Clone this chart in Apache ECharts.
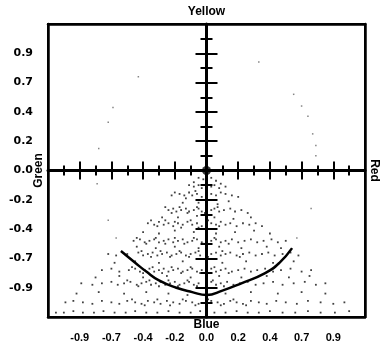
<!DOCTYPE html>
<html><head><meta charset="utf-8">
<script src="https://cdn.jsdelivr.net/npm/echarts@6/dist/echarts.min.js"></script>
<style>html,body{margin:0;padding:0;background:#fff}#c{width:380px;height:348px}</style>
</head><body><div id="c"></div>
<script>
// Tick label texts (as printed), for tick positions -0.8..0.8 step 0.2
var xTickLabels = ['-0.9','-0.7','-0.4','-0.2','0.0','0.2','0.4','0.7','0.9'];
var yTickLabels = ['-0.9','-0.7','-0.4','-0.2','0.0','0.2','0.4','0.7','0.9'];
var axisNames = {top:'Yellow', bottom:'Blue', left:'Green', right:'Red'};

// Colour samples (banded)
var bandPoints = [
 [-0.05,-0.05],[-0.02,-0.06],[0.03,-0.05],[0.06,-0.07],[-0.08,-0.08],[0.09,-0.09],
 [-0.11,-0.10],[-0.08,-0.11],[-0.05,-0.10],[-0.03,-0.12],[0.03,-0.11],[0.05,-0.10],[0.08,-0.12],[0.12,-0.11],
 [-0.17,-0.16],[-0.14,-0.17],[-0.11,-0.15],[-0.09,-0.17],[-0.06,-0.16],[-0.03,-0.18],[0.03,-0.16],[0.06,-0.17],[0.09,-0.15],[0.12,-0.16],[0.16,-0.17],[0.20,-0.18],
 [-0.15,-0.22],[-0.05,-0.22],[0.07,-0.23],[0.14,-0.21],
 [-0.24,-0.27],[-0.21,-0.26],[-0.19,-0.28],[-0.16,-0.27],[-0.13,-0.26],[-0.11,-0.28],[-0.08,-0.27],[-0.05,-0.26],[-0.03,-0.28],[0.03,-0.27],[0.05,-0.26],[0.08,-0.28],[0.11,-0.27],[0.15,-0.26],[0.18,-0.28],[0.22,-0.27],[0.26,-0.29],
 [-0.28,-0.32],[-0.18,-0.32],[-0.06,-0.31],[0.05,-0.32],[0.17,-0.33],[0.28,-0.32],
 [-0.37,-0.36],[-0.33,-0.37],[-0.30,-0.35],[-0.27,-0.37],[-0.24,-0.36],[-0.21,-0.38],[-0.18,-0.36],[-0.15,-0.37],[-0.12,-0.35],[-0.09,-0.37],[-0.06,-0.36],[-0.03,-0.38],[0.03,-0.36],[0.06,-0.37],[0.09,-0.35],[0.12,-0.37],[0.15,-0.36],[0.19,-0.38],[0.23,-0.36],[0.27,-0.37],[0.31,-0.36],[0.35,-0.38],
 [-0.40,-0.42],[-0.30,-0.43],[-0.20,-0.41],[-0.08,-0.42],[0.06,-0.43],[0.18,-0.42],[0.30,-0.41],[0.40,-0.43],
 [-0.46,-0.48],[-0.42,-0.47],[-0.39,-0.49],[-0.36,-0.48],[-0.33,-0.47],[-0.30,-0.49],[-0.27,-0.48],[-0.24,-0.47],[-0.21,-0.49],[-0.18,-0.48],[-0.15,-0.47],[-0.12,-0.49],[-0.09,-0.48],[-0.06,-0.47],[-0.03,-0.49],[0.03,-0.48],[0.06,-0.47],[0.09,-0.49],[0.12,-0.48],[0.16,-0.47],[0.20,-0.49],[0.24,-0.48],[0.28,-0.47],[0.32,-0.49],[0.36,-0.48],[0.41,-0.47],[0.45,-0.49],[0.50,-0.48],
 [-0.44,-0.52],[-0.32,-0.53],[-0.20,-0.52],[-0.05,-0.53],[0.08,-0.52],[0.22,-0.53],[0.38,-0.52],[0.47,-0.53],
 [-0.62,-0.57],[-0.57,-0.58],[-0.50,-0.57],[-0.43,-0.56],[-0.40,-0.58],[-0.37,-0.57],[-0.34,-0.56],[-0.31,-0.58],[-0.28,-0.57],[-0.25,-0.56],[-0.22,-0.58],[-0.19,-0.57],[-0.16,-0.56],[-0.13,-0.58],[-0.10,-0.57],[-0.07,-0.56],[-0.04,-0.58],[0.03,-0.57],[0.06,-0.56],[0.09,-0.58],[0.12,-0.57],[0.15,-0.56],[0.19,-0.58],[0.23,-0.57],[0.27,-0.56],[0.31,-0.58],[0.35,-0.57],[0.39,-0.56],[0.43,-0.58],[0.48,-0.57],[0.53,-0.56],[0.58,-0.58],
 [-0.58,-0.63],[-0.45,-0.62],[-0.30,-0.63],[-0.15,-0.62],[0.10,-0.63],[0.25,-0.62],[0.42,-0.63],[0.55,-0.62],
 [-0.66,-0.68],[-0.60,-0.67],[-0.55,-0.69],[-0.49,-0.68],[-0.45,-0.67],[-0.42,-0.69],[-0.39,-0.68],[-0.36,-0.67],[-0.33,-0.69],[-0.30,-0.68],[-0.27,-0.67],[-0.24,-0.69],[-0.21,-0.68],[-0.18,-0.67],[-0.15,-0.69],[-0.12,-0.68],[-0.09,-0.67],[-0.06,-0.69],[-0.03,-0.68],[0.03,-0.67],[0.06,-0.69],[0.09,-0.68],[0.12,-0.67],[0.16,-0.69],[0.20,-0.68],[0.24,-0.67],[0.28,-0.69],[0.32,-0.68],[0.37,-0.67],[0.42,-0.69],[0.47,-0.68],[0.53,-0.67],[0.60,-0.69],[0.66,-0.68],
 [-0.70,-0.73],[-0.55,-0.72],[-0.40,-0.73],[-0.25,-0.72],[-0.10,-0.73],[0.08,-0.72],[0.22,-0.73],[0.38,-0.72],[0.52,-0.73],[0.65,-0.72],
 [-0.79,-0.77],[-0.72,-0.78],[-0.66,-0.77],[-0.60,-0.76],[-0.56,-0.78],[-0.52,-0.77],[-0.48,-0.76],[-0.44,-0.78],[-0.41,-0.77],[-0.38,-0.76],[-0.35,-0.78],[-0.32,-0.77],[-0.29,-0.76],[-0.26,-0.78],[-0.23,-0.77],[-0.20,-0.76],[-0.17,-0.78],[-0.14,-0.77],[-0.11,-0.76],[-0.08,-0.78],[-0.05,-0.77],[0.03,-0.76],[0.06,-0.78],[0.09,-0.77],[0.13,-0.76],[0.17,-0.78],[0.21,-0.77],[0.26,-0.76],[0.31,-0.78],[0.36,-0.77],[0.42,-0.76],[0.48,-0.78],[0.55,-0.77],[0.62,-0.76],[0.69,-0.78],[0.75,-0.77],
 [-0.82,-0.84],[-0.68,-0.83],[-0.52,-0.84],[-0.38,-0.83],[-0.24,-0.84],[-0.12,-0.85],[0.12,-0.84],[0.28,-0.83],[0.45,-0.84],[0.60,-0.83],[0.75,-0.84],
 [-0.89,-0.90],[-0.84,-0.89],[-0.78,-0.90],[-0.72,-0.91],[-0.66,-0.89],[-0.60,-0.90],[-0.55,-0.91],[-0.50,-0.89],[-0.45,-0.90],[-0.41,-0.91],[-0.37,-0.89],[-0.33,-0.90],[-0.29,-0.91],[-0.25,-0.89],[-0.21,-0.90],[-0.17,-0.91],[-0.13,-0.89],[-0.09,-0.90],[-0.05,-0.91],[0.03,-0.89],[0.07,-0.90],[0.11,-0.91],[0.15,-0.89],[0.19,-0.90],[0.23,-0.91],[0.28,-0.89],[0.33,-0.90],[0.38,-0.91],[0.44,-0.89],[0.50,-0.90],[0.57,-0.91],[0.64,-0.89],[0.72,-0.90],[0.80,-0.91],[0.87,-0.90],
 [-0.95,-0.97],[-0.90,-0.97],[-0.84,-0.96],[-0.78,-0.97],[-0.71,-0.97],[-0.65,-0.96],[-0.58,-0.97],[-0.51,-0.97],[-0.45,-0.96],[-0.38,-0.97],[-0.31,-0.97],[-0.24,-0.96],[-0.17,-0.97],[-0.10,-0.97],[-0.04,-0.96],[0.05,-0.97],[0.12,-0.97],[0.19,-0.96],[0.26,-0.97],[0.33,-0.97],[0.40,-0.96],[0.48,-0.97],[0.56,-0.97],[0.64,-0.96],[0.72,-0.97],[0.81,-0.97],[0.90,-0.96]
];
// Extra samples in the denser central region
var denseCore = [
 [-0.22,-0.17],[-0.20,-0.15],[-0.13,-0.19],[-0.07,-0.14],
 [-0.26,-0.25],[-0.22,-0.29],[-0.17,-0.25],[-0.12,-0.29],[-0.06,-0.25],[-0.01,-0.29],[0.07,-0.25],
 [-0.35,-0.34],[-0.31,-0.38],[-0.26,-0.34],[-0.20,-0.35],[-0.16,-0.39],[-0.10,-0.34],[-0.05,-0.39],[0.01,-0.34],[0.08,-0.38],
 [-0.44,-0.46],[-0.38,-0.50],[-0.32,-0.46],[-0.26,-0.50],[-0.20,-0.46],[-0.14,-0.50],[-0.08,-0.46],[-0.02,-0.50],[0.05,-0.46],[0.14,-0.50],
 [-0.41,-0.55],[-0.35,-0.59],[-0.29,-0.55],[-0.23,-0.59],[-0.17,-0.55],[-0.11,-0.59],[-0.05,-0.55],[0.01,-0.59],[0.10,-0.55],[0.21,-0.59],
 [-0.47,-0.66],[-0.40,-0.70],[-0.34,-0.66],[-0.28,-0.70],[-0.22,-0.66],[-0.16,-0.70],[-0.10,-0.66],[-0.04,-0.70],[0.05,-0.66],[0.14,-0.70],
 [-0.50,-0.75],[-0.43,-0.79],[-0.36,-0.75],[-0.30,-0.79],[-0.24,-0.75],[-0.18,-0.79],[-0.12,-0.75],[-0.06,-0.79],[0.04,-0.75],[0.11,-0.79],
 [-0.47,-0.88],[-0.39,-0.92],[-0.31,-0.88],[-0.23,-0.92],[-0.15,-0.88],[-0.07,-0.92],[0.01,-0.88],[0.09,-0.92],[0.17,-0.88],[0.25,-0.92]
];
// Faint dotted ring
var ringPoints = [
 [-0.43,0.64],[-0.59,0.43],[-0.62,0.33],[-0.68,0.15],[-0.69,-0.09],[-0.62,-0.34],[-0.57,-0.46],
 [0.33,0.74],[0.55,0.52],[0.60,0.44],[0.64,0.37],[0.67,0.25],[0.69,0.17],[0.69,0.10],[0.66,-0.26],[0.57,-0.46]
];
// Bold arc
var arcPoints = [
 [-0.54,-0.55],[-0.45,-0.63],[-0.38,-0.69],[-0.30,-0.75],[-0.19,-0.80],[-0.09,-0.83],[0.0,-0.85],
 [0.10,-0.82],[0.22,-0.77],[0.37,-0.70],[0.46,-0.63],[0.54,-0.53]
];
var originPoint = [[0,0]];

var fontX = {fontFamily:'Liberation Sans, Arial, sans-serif', fontWeight:'bold', fontSize:11, color:'#000'};
var fontY = {fontFamily:'DejaVu Sans, sans-serif', fontWeight:'bold', fontSize:11, color:'#000'};
var fontName = {fontFamily:'Liberation Sans, Arial, sans-serif', fontWeight:'bold', fontSize:12, color:'#000'};
function lbl(arr){ return function(v){ var i=Math.round((v+0.8)/0.2); return (i>=0&&i<arr.length)?arr[i]:''; }; }
function ax(extra){ return Object.assign({type:'value', min:-1, max:1, interval:0.2, nameMoveOverlap:false, splitLine:{show:false}, axisLabel:{show:false}, axisTick:{show:false}}, extra); }
function frameLine(){ return {show:true, onZero:false, lineStyle:{color:'#000000', width:2.5, opacity:1}}; }
function tickStyle(){ return {color:'#000', width:2}; }
function zeroLine(show){ return {show:show, onZero:true, onZeroAxisIndex:0, lineStyle:{color:'#000', width:3}}; }

var chart = echarts.init(document.getElementById('c'), null, {renderer:'canvas'});
chart.setOption({
  animation:false,
  grid:{left:48, right:15, top:24, bottom:31, show:true, borderColor:'#000', borderWidth:2, z:5},
  xAxis:[
    ax({position:'bottom', z:10, axisLine:frameLine(),
      axisLabel:Object.assign({show:true, margin:15, showMinLabel:false, showMaxLabel:false, formatter:lbl(xTickLabels)}, fontX)}),
    ax({position:'top', z:10, axisLine:frameLine()}),
    ax({position:'bottom', axisLine:zeroLine(true),
      axisTick:{show:true, inside:true, length:9, lineStyle:tickStyle()},
      name:axisNames.right, nameLocation:'end', nameGap:3, nameRotate:-90,
      nameTextStyle:Object.assign({}, fontName, {align:'center', verticalAlign:'bottom'})}),
    ax({position:'bottom', axisLine:zeroLine(false),
      axisTick:{show:true, inside:false, length:9, lineStyle:tickStyle()},
      name:axisNames.left, nameLocation:'start', nameGap:3, nameRotate:90,
      nameTextStyle:Object.assign({}, fontName, {align:'center', verticalAlign:'bottom'})}),
    ax({position:'bottom', interval:0.1, axisLine:zeroLine(false),
      axisTick:{show:true, inside:true, length:5, lineStyle:tickStyle()}}),
    ax({position:'bottom', interval:0.1, axisLine:zeroLine(false),
      axisTick:{show:true, inside:false, length:5, lineStyle:tickStyle()}})
  ],
  yAxis:[
    ax({position:'left', z:10, axisLine:frameLine(),
      axisLabel:Object.assign({show:true, margin:15, showMinLabel:false, showMaxLabel:false, formatter:lbl(yTickLabels)}, fontY)}),
    ax({position:'right', z:10, axisLine:frameLine()}),
    ax({position:'left', axisLine:zeroLine(true),
      axisTick:{show:true, inside:true, length:11, lineStyle:tickStyle()},
      name:axisNames.top, nameLocation:'end', nameGap:6, nameTextStyle:fontName}),
    ax({position:'left', axisLine:zeroLine(false),
      axisTick:{show:true, inside:false, length:11, lineStyle:tickStyle()},
      name:axisNames.bottom, nameLocation:'start', nameGap:2,
      nameTextStyle:Object.assign({}, fontName, {verticalAlign:'top'})}),
    ax({position:'left', interval:0.1, axisLine:zeroLine(false),
      axisTick:{show:true, inside:true, length:6, lineStyle:tickStyle()}}),
    ax({position:'left', interval:0.1, axisLine:zeroLine(false),
      axisTick:{show:true, inside:false, length:6, lineStyle:tickStyle()}})
  ],
  series:[
    {type:'scatter', xAxisIndex:0, yAxisIndex:0, data:ringPoints, symbol:'rect', symbolSize:1.5, itemStyle:{color:'#666'}, silent:true},
    {type:'scatter', xAxisIndex:0, yAxisIndex:0, data:bandPoints, symbol:'rect', symbolSize:1.8, itemStyle:{color:'#111'}, silent:true},
    {type:'scatter', xAxisIndex:0, yAxisIndex:0, data:denseCore, symbol:'rect', symbolSize:1.8, itemStyle:{color:'#111'}, silent:true},
    {type:'line', xAxisIndex:0, yAxisIndex:0, data:arcPoints, smooth:true, showSymbol:false, lineStyle:{color:'#000', width:2.5}, silent:true},
    {type:'scatter', xAxisIndex:0, yAxisIndex:0, data:originPoint, symbol:'circle', symbolSize:9, itemStyle:{color:'#000'}, silent:true}
  ]
});
</script>
</body></html>
